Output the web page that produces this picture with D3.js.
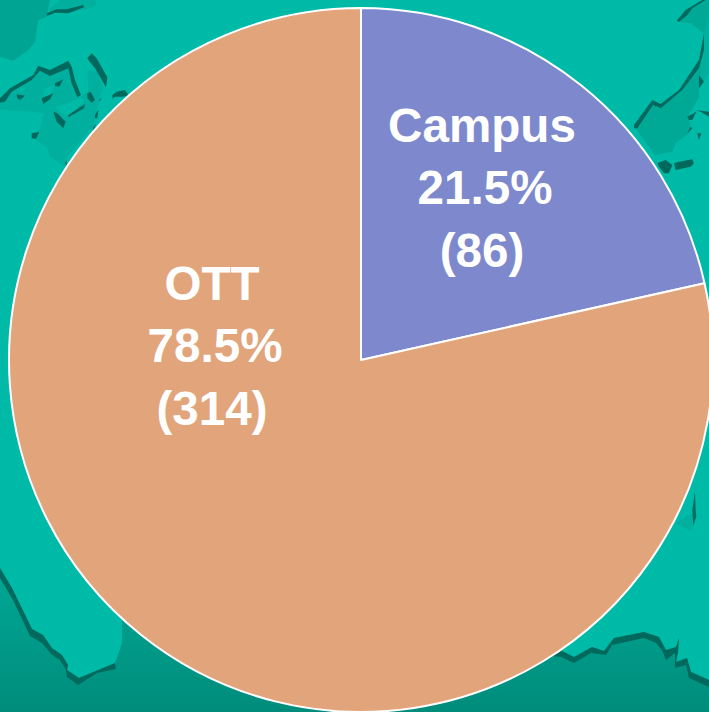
<!DOCTYPE html>
<html>
<head>
<meta charset="utf-8">
<script src="https://cdnjs.cloudflare.com/ajax/libs/d3/7.8.5/d3.min.js"></script>
<style>
html,body{margin:0;padding:0;background:#00BAA8;overflow:hidden}
svg{display:block}
text{font-family:"Liberation Sans",Arial,sans-serif;font-weight:700;fill:#fff}
</style>
</head>
<body>
<svg id="chart" width="709" height="712"></svg>
<script>
const categories = ["Campus", "OTT"];
const percentages = [21.5, 78.5];
const counts = [86, 314];
const sliceColors = ["#7D89CC", "#E2A57B"];

// Decorative background map (not data). Outlines are given at 3x, per corner of the page.
const bg = "#00BAA8", landA = "#00AF9D", landB = "#00A896", landC = "#00A492", shade = "#00695E";
const corners = [
  { origin: [0, 0], parts: [
    [landC, "M0,0 L150,0 L140,50 L115,60 L105,125 L85,150 L40,182 L0,170 Z"],
    [landA, "M145,30 L180,0 L290,0 L285,20 L200,40 L150,38 Z"],
    [landA, "M0,300 L30,265 L100,225 L120,200 L150,215 L205,185 L225,250 L240,290 L265,275 L262,210 L290,215 L310,265 L300,290 L290,340 L280,380 L200,470 L195,500 L150,470 L140,440 L100,415 L120,385 L130,340 L95,335 L0,330 Z"],
    [bg, "M60,265 L80,262 L60,280 Z M135,265 L165,255 L150,285 L130,290 Z M165,320 L215,305 L240,295 L255,300 L205,350 L185,340 Z"],
    [shade, "M140,40 L170,28 L200,28 L250,15 L252,22 L205,40 L165,38 L142,48 Z"],
    [shade, "M0,295 L30,265 L100,225 L115,197 L150,210 L205,182 L215,200 L225,240 L243,285 L232,292 L215,250 L205,205 L150,228 L120,212 L95,240 L35,275 L15,305 L0,308 Z"],
    [shade, "M262,175 L275,160 L290,175 L322,232 L318,262 L285,205 L265,180 Z"],
    [shade, "M337,285 L350,275 L375,270 L385,285 L370,290 L345,290 L338,297 Z"],
    [shade, "M50,283 L75,287 L60,300 L52,295 Z M125,295 L160,280 L150,298 L130,312 Z M165,250 L190,238 L178,260 L165,258 Z"],
    [shade, "M160,335 L172,340 L197,365 L190,385 L170,365 Z M205,345 L255,312 L252,325 L205,352 Z M262,280 L272,275 L285,300 L275,308 L262,295 Z"],
    [shade, "M95,400 L118,395 L108,417 L95,415 Z M285,345 L295,330 L292,355 L285,355 Z M278,385 L288,372 L282,390 Z M195,490 L200,480 L200,498 Z M298,300 L305,290 L300,305 Z"]
  ]},
  { origin: [509, 0], parts: [
    [landB, "M505,65 L545,70 L585,100 L600,60 L600,0 L580,0 L530,30 Z"],
    [landA, "M585,100 L600,60 L600,220 L570,265 L570,200 Z"],
    [landB, "M375,380 L430,305 L445,325 L510,280 L575,200 L585,100 L570,265 L570,290 L540,345 L545,395 L500,430 L490,455 L438,465 Z"],
    [shade, "M375,375 L430,300 L455,312 L510,270 L570,180 L585,100 L585,150 L570,205 L520,270 L455,325 L432,315 L385,385 L375,385 Z"],
    [shade, "M503,62 L530,30 L580,0 L590,0 L550,25 L535,45 L510,65 Z"],
    [shade, "M570,225 L585,245 L570,265 L570,245 Z M558,330 L600,335 L600,350 L575,335 Z M535,350 L562,335 L550,360 L540,360 Z M545,380 L550,385 L535,400 Z M565,400 L577,400 L570,420 Z"],
    [shade, "M445,490 L470,480 L490,495 L480,520 L465,520 L450,500 Z M495,490 L510,485 L550,478 L555,490 L545,500 L500,510 Z"]
  ]},
  { origin: [509, 480], parts: [
    [landA, "M500,130 L550,100 L560,130 L545,152 Z"],
    [shade, "M558,35 L560,90 L562,110 L553,135 L550,90 Z"]
  ]}
];
// Bottom land outline in page coordinates; it clips the gradient band and runs under the pie
const bandOutline = "M0,568 L12,588 L32,629 L43,635 L52,648 L62,655 L68,665 L67,670 L79,678 L115,663 L122,643 L122,620 L361,500 L562,651 L574,657 L592,647 L604,651 L614,638 L644,632 L659,637 L666,650 L676,647 L679,638 L678,652 L676,662 L687,658 L691,672 L709,680 L709,712 L0,712 Z";
// Dark shadow along that coast, page coordinates
const coastShadow = [
  "M0,568 L12,588 L32,629 L43,635 L52,648 L62,655 L68,665 L67,670 L79,678 L115,663 L116,669 L97,673 L78,685 L67,677 L66,670 L60,660 L52,655 L42,643 L30,636 L13,600 L0,578 Z",
  "M500,620 L562,651 L574,657 L592,647 L604,651 L614,638 L644,632 L659,637 L666,650 L676,647 L679,638 L678,652 L676,662 L687,658 L691,672 L709,680 L709,687 L689,678 L686,665 L675,668 L675,653 L666,660 L662,650 L656,643 L644,638 L612,645 L606,655 L591,653 L574,663 L561,657 L500,650 Z"
];

const svg = d3.select("#chart");
const defs = svg.append("defs");
const grad = defs.append("linearGradient").attr("id", "land")
  .attr("gradientUnits", "userSpaceOnUse")
  .attr("x1", 0).attr("x2", 0).attr("y1", 600).attr("y2", 712);
grad.append("stop").attr("offset", "0").attr("stop-color", "#00A290");
grad.append("stop").attr("offset", "1").attr("stop-color", "#008C7B");

svg.append("rect").attr("width", 709).attr("height", 712).attr("fill", bg);
svg.append("path").attr("d", bandOutline).attr("fill", "url(#land)");
svg.selectAll("path.coast").data(coastShadow).join("path").attr("class", "coast")
  .attr("d", d => d).attr("fill", shade);
svg.selectAll("g.corner").data(corners).join("g").attr("class", "corner")
  .attr("transform", d => `translate(${d.origin[0]},${d.origin[1]}) scale(0.3333)`)
  .selectAll("path").data(d => d.parts).join("path")
  .attr("fill", d => d[0]).attr("d", d => d[1]);

const cx = 361, cy = 360, radius = 352;
const pie = d3.pie().sort(null).value(d => d)(counts);
const arc = d3.arc().innerRadius(0).outerRadius(radius);
const g = svg.append("g").attr("transform", `translate(${cx},${cy})`);
g.selectAll("path.slice").data(pie).join("path").attr("class", "slice")
  .attr("d", arc)
  .attr("fill", (d, i) => sliceColors[i])
  .attr("stroke", "#fff").attr("stroke-width", 2).attr("stroke-linejoin", "round");

const labelG = g.selectAll("text.lab").data(pie).join("text").attr("class", "lab")
  .attr("text-anchor", "middle").attr("font-size", 47.6)
  .attr("transform", (d, i) => `translate(${i === 0 ? 121 : -149},${i === 0 ? -218 : -60})`);
labelG.selectAll("tspan")
  .data((d, i) => [categories[i], percentages[i].toFixed(1) + "%", "(" + counts[i] + ")"])
  .join("tspan")
  .attr("x", (d, i) => i === 1 ? 3 : 0)
  .attr("y", (d, i) => i * 62.4)
  .text(d => d);
</script>
</body>
</html>
